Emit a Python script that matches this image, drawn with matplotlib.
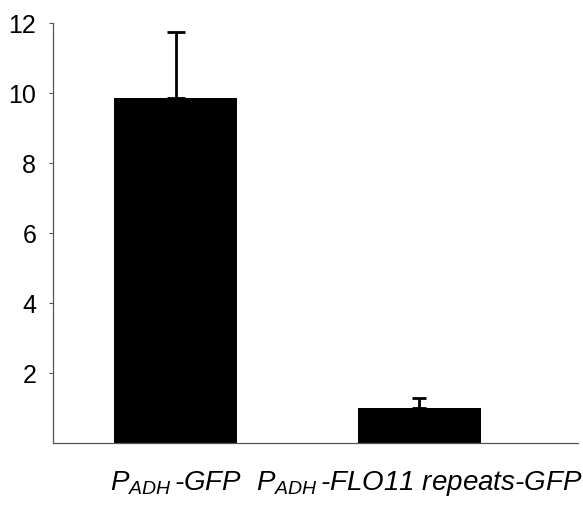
import matplotlib
matplotlib.use("Agg")
import matplotlib.pyplot as plt

# values
labels = [r"$P_{ADH}\,$-GFP", r"$P_{ADH}\,$-FLO11 repeats-GFP"]
means = [9.87, 0.99]
err_up = [1.86, 0.30]
yticks = [2, 4, 6, 8, 10, 12]

plt.rcParams["font.family"] = "Liberation Sans"
plt.rcParams["mathtext.fontset"] = "custom"
plt.rcParams["mathtext.it"] = "Liberation Sans:italic"
plt.rcParams["mathtext.rm"] = "Liberation Sans"

fig = plt.figure(figsize=(5.83, 5.07), dpi=100)
ax = fig.add_axes([0.0909, 0.1262, 0.9005, 0.8284])

x = list(range(len(means)))
ax.bar(x, means, width=0.505, color="black")
ax.errorbar(x[0], means[0], yerr=[[0], [err_up[0]]], fmt="none",
            ecolor="black", elinewidth=2, capsize=6.5, capthick=2)
ax.errorbar(x[1], means[1], yerr=[[0], [err_up[1]]], fmt="none",
            ecolor="black", elinewidth=2, capsize=5, capthick=2)

ax.set_xlim(-0.503, 1.65)
ax.set_ylim(0, 12)
ax.set_yticks(yticks)
ax.set_yticklabels([str(t) for t in yticks], fontsize=18)
ax.set_xticks(x)
ax.set_xticklabels(labels, fontsize=20, style="italic")
ax.tick_params(axis="x", length=0, pad=19)
ax.tick_params(axis="y", length=3, width=0.8, color="#555555", pad=9)

for side in ("top", "right"):
    ax.spines[side].set_visible(False)
for side in ("left", "bottom"):
    ax.spines[side].set_color("#555555")
    ax.spines[side].set_linewidth(0.9)

fig.savefig("out.png", dpi=100)
